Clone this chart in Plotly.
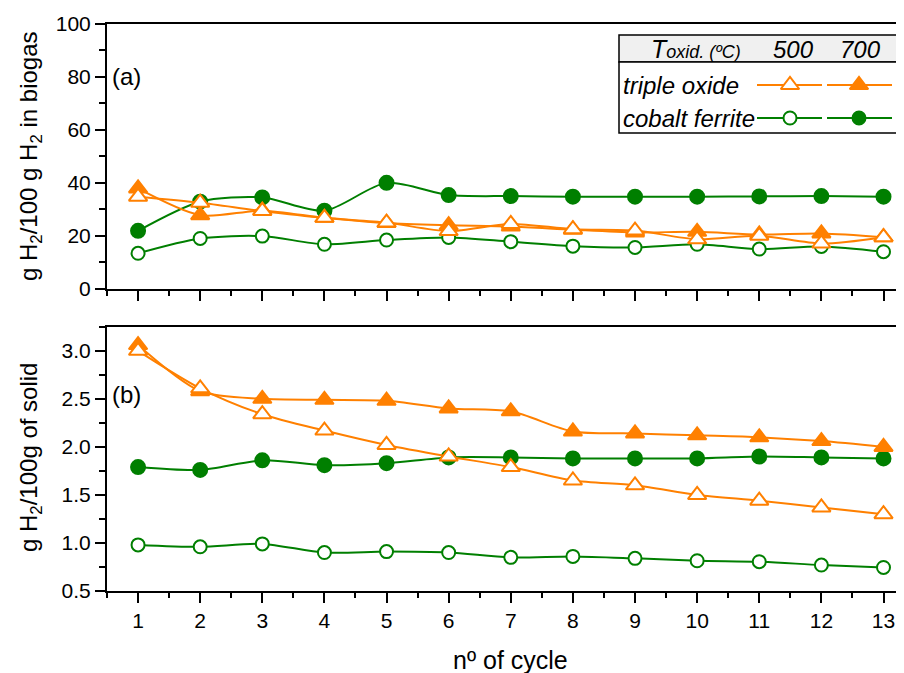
import plotly.graph_objects as go

cycles = list(range(1, 14))

# (a) g H2 / 100 g H2 in biogas
a_triple_500 = [34.8, 32.5, 29.4, 26.8, 25.0, 21.8, 24.5, 22.5, 22.0, 18.7, 20.0, 17.1, 19.5]
a_triple_700 = [37.9, 27.8, 29.5, 26.8, 24.8, 24.0, 23.5, 22.3, 21.3, 21.5, 20.5, 20.9, 19.5]
a_cobalt_500 = [13.4, 19.0, 19.9, 16.8, 18.4, 19.4, 17.8, 16.1, 15.6, 16.8, 15.0, 16.0, 14.0]
a_cobalt_700 = [21.9, 32.9, 34.5, 29.5, 40.0, 35.4, 35.0, 34.8, 34.8, 34.8, 34.9, 35.0, 34.8]

# (b) g H2 / 100 g of solid
b_triple_500 = [3.00, 2.61, 2.34, 2.17, 2.02, 1.90, 1.79, 1.65, 1.60, 1.50, 1.44, 1.37, 1.30]
b_triple_700 = [3.06, 2.58, 2.50, 2.49, 2.48, 2.40, 2.37, 2.16, 2.14, 2.12, 2.10, 2.06, 2.00]
b_cobalt_500 = [0.98, 0.96, 0.99, 0.90, 0.91, 0.90, 0.85, 0.86, 0.84, 0.815, 0.805, 0.77, 0.745]
b_cobalt_700 = [1.79, 1.76, 1.86, 1.81, 1.83, 1.89, 1.89, 1.88, 1.88, 1.88, 1.90, 1.89, 1.88]

ORANGE = "#FF8000"
GREEN = "#007F00"
FONT = "Liberation Sans, Arial, sans-serif"

fig = go.Figure()

def marker_style(symbol, filled, color, size):
    return dict(symbol=symbol, size=size, color=color if filled else "white",
                line=dict(color=color, width=2))

def add(y, color, symbol, filled, size, xa, ya):
    fig.add_trace(go.Scatter(
        x=cycles, y=y, mode="lines+markers",
        line=dict(color=color, width=2, shape="spline", smoothing=0.8),
        marker=marker_style(symbol, filled, color, size),
        xaxis=xa, yaxis=ya, showlegend=False, cliponaxis=False))

# top panel
add(a_cobalt_500, GREEN, "circle", False, 13, "x", "y")
add(a_cobalt_700, GREEN, "circle", True, 14, "x", "y")
add(a_triple_700, ORANGE, "triangle-up", True, 16, "x", "y")
add(a_triple_500, ORANGE, "triangle-up", False, 16, "x", "y")
# bottom panel
add(b_cobalt_500, GREEN, "circle", False, 13, "x2", "y2")
add(b_cobalt_700, GREEN, "circle", True, 14, "x2", "y2")
add(b_triple_700, ORANGE, "triangle-up", True, 16, "x2", "y2")
add(b_triple_500, ORANGE, "triangle-up", False, 16, "x2", "y2")

# legend glyphs on a pixel-like overlay axis
leg_rows = [("triple oxide", ORANGE, "triangle-up", 16, 85),
            ("cobalt ferrite", GREEN, "circle", 13, 118)]
seg = [(757, 822, 790, False), (827, 892, 859, True)]
for name, color, sym, size, yy in leg_rows:
    for x0, x1, xm, filled in seg:
        fig.add_trace(go.Scatter(x=[x0, x1], y=[yy, yy], mode="lines",
                                 line=dict(color=color, width=2),
                                 xaxis="x3", yaxis="y3", showlegend=False, hoverinfo="skip"))
        fig.add_trace(go.Scatter(x=[xm], y=[yy], mode="markers",
                                 marker=marker_style(sym, filled, color, size),
                                 xaxis="x3", yaxis="y3", showlegend=False, hoverinfo="skip"))
    fig.add_annotation(x=621, y=yy, xref="x3", yref="y3", text=f"<i>{name}</i>",
                       showarrow=False, xanchor="left", yanchor="middle",
                       font=dict(family=FONT, size=24, color="black"))

# legend box
fig.add_shape(type="rect", xref="x3", yref="y3", x0=619, x1=903, y0=35, y1=62,
              fillcolor="#F0F0F0", line=dict(color="black", width=1.5), layer="below")
fig.add_shape(type="rect", xref="x3", yref="y3", x0=619, x1=903, y0=62, y1=133,
              fillcolor="white", line=dict(color="black", width=1.5), layer="below")
fig.add_annotation(x=649, y=49, xref="x3", yref="y3",
                   text="<i><span style='font-size:25px'>T</span>oxid. (ºC)</i>",
                   showarrow=False, xanchor="left", yanchor="middle",
                   font=dict(family=FONT, size=18, color="black"))
for txt, xm in [("500", 793), ("700", 860)]:
    fig.add_annotation(x=xm, y=49, xref="x3", yref="y3", text=f"<i>{txt}</i>",
                       showarrow=False, xanchor="center", yanchor="middle",
                       font=dict(family=FONT, size=24, color="black"))

# panel labels
fig.add_annotation(x=0.55, y=80, xref="x", yref="y", text="(a)", showarrow=False,
                   xanchor="left", yanchor="middle", font=dict(family=FONT, size=24, color="black"))
fig.add_annotation(x=0.55, y=2.55, xref="x2", yref="y2", text="(b)", showarrow=False,
                   xanchor="left", yanchor="middle", font=dict(family=FONT, size=24, color="black"))

# axis titles in paper coordinates (plot area spans page px 107..904 x 24..591)
def px_to_paper(px, py):
    return (px - 107) / 797, (591 - py) / 567

for txt, (px, py), ang, fs in [
        ("g H<sub>2</sub>/100 g H<sub>2</sub> in biogas", (30, 156), -90, 24),
        ("g H<sub>2</sub>/100g of solid", (30, 458), -90, 24),
        ("nº of cycle", (510, 660), 0, 25)]:
    xp, yp = px_to_paper(px, py)
    fig.add_annotation(x=xp, y=yp, xref="paper", yref="paper", textangle=ang,
                       text=txt, showarrow=False, xanchor="center", yanchor="middle",
                       font=dict(family=FONT, size=fs, color="black"))

axis_common = dict(showgrid=False, zeroline=False, linecolor="black", linewidth=2,
                   ticks="outside", tickcolor="black", tickwidth=2, ticklen=10,
                   automargin=False,
                   tickfont=dict(family=FONT, size=21, color="black"))

XR = [0.5, 13.33]
# the page body adds an 8px offset; margins compensate so the plot area sits at 107..904 x 24..591
fig.update_layout(
    width=896, height=665,
    margin=dict(l=99, r=0, t=16, b=82),
    paper_bgcolor="white", plot_bgcolor="rgba(0,0,0,0)",
    xaxis=dict(**axis_common, domain=[0, 1], range=XR, anchor="y", tickvals=cycles,
               showticklabels=False, mirror=True,
               minor=dict(dtick=0.5, tick0=0.5, ticks="outside", ticklen=5, tickwidth=1.5, tickcolor="black")),
    yaxis=dict(**axis_common, domain=[0.533, 1], range=[0, 100], anchor="x",
               tickvals=[0, 20, 40, 60, 80, 100],
               minor=dict(dtick=10, ticks="outside", ticklen=6, tickwidth=1.5, tickcolor="black")),
    xaxis2=dict(**axis_common, domain=[0, 1], range=XR, anchor="y2", tickvals=cycles,
                mirror=True,
                minor=dict(dtick=0.5, tick0=0.5, ticks="outside", ticklen=5, tickwidth=1.5, tickcolor="black")),
    yaxis2=dict(**axis_common, domain=[0, 0.466], range=[0.5, 3.25], anchor="x2",
                tickvals=[0.5, 1.0, 1.5, 2.0, 2.5, 3.0], tickformat=".1f",
                minor=dict(dtick=0.25, tick0=0.5, ticks="outside", ticklen=6, tickwidth=1.5, tickcolor="black")),
    xaxis3=dict(domain=[0, 1], range=[107, 904], anchor="y3", visible=False, fixedrange=True),
    yaxis3=dict(domain=[0, 1], range=[591, 24], anchor="x3", visible=False, fixedrange=True),
)

fig.write_html("out.html")
